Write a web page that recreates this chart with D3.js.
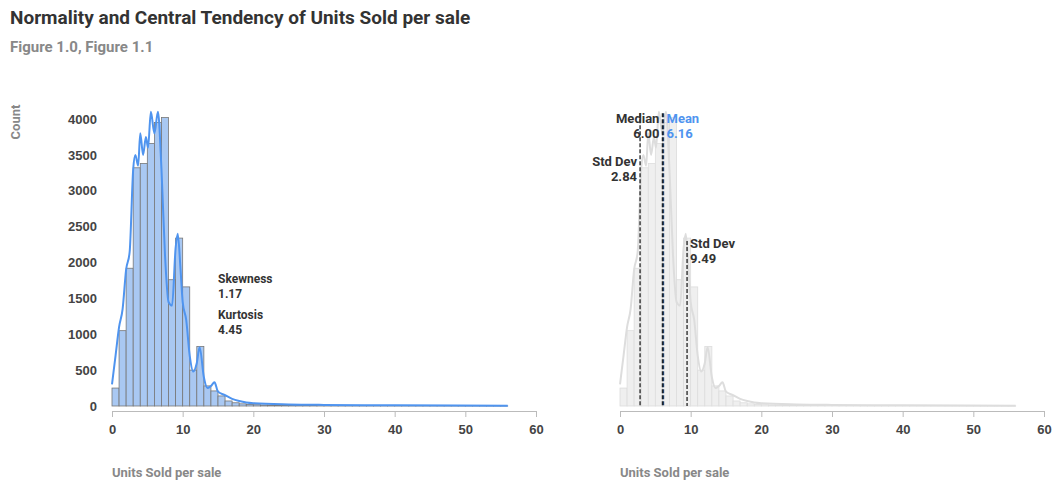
<!DOCTYPE html>
<html>
<head>
<style>
body { margin: 0; background: #fff; font-family: Roboto, "Noto Sans", sans-serif; }
.tick text { font-size: 13px; font-weight: bold; fill: #444; }
.domain, .tick line { stroke: #bbb; }
</style>
<script src="https://cdnjs.cloudflare.com/ajax/libs/d3/7.8.5/d3.min.js"></script>
</head>
<body>
<svg width="1060" height="490"></svg>
<script>
// histogram bins (width 1, start at 0)
var binCounts = [250, 1050, 1920, 3320, 3380, 3660, 3950, 4020, 1760, 2340, 1660, 500, 830, 280, 210, 140, 70, 45, 30, 22,
  18, 14, 12, 10, 9, 8, 7, 6, 6, 5, 5, 4, 4, 4, 3, 3, 3, 3, 2, 2, 2, 2, 2, 2, 2, 2, 1, 1, 1, 1, 1, 1, 1, 1, 1, 1];
// density curve
var kdeX = [0, 0.5, 1, 1.5, 2, 2.5, 3, 3.3, 3.7, 4, 4.4, 4.8, 5.1, 5.5, 6, 6.5, 7, 7.5, 8, 8.5, 9, 9.3, 9.7, 10, 10.5, 11, 11.5, 12, 12.4, 13, 13.5, 14, 14.5, 15, 16, 17, 18, 19, 20, 25, 30, 40, 56];
var kdeY = [300, 700, 1100, 1350, 1900, 2150, 3300, 3500, 3350, 3800, 3500, 3750, 3600, 4100, 3800, 4100, 3300, 2100, 1450, 1400, 2200, 2400, 1900, 1450, 1200, 700, 480, 600, 820, 400, 250, 280, 330, 200, 150, 100, 70, 50, 40, 22, 15, 10, 5];
var xTicks = [0, 10, 20, 30, 40, 50, 60];
var yTicks = [0, 500, 1000, 1500, 2000, 2500, 3000, 3500, 4000];
var stats = { skew: "1.17", kurt: "4.45" };
var markers = [
  { v: 2.84, label: "Std Dev", val: "2.84", top: 4080, lab: 3350, side: "left", color: "#333" },
  { v: 6.00, label: "Median", val: "6.00", top: 4080, lab: 3950, side: "left", color: "#333" },
  { v: 6.16, label: "Mean", val: "6.16", top: 4080, lab: 3950, side: "right", color: "#4f94ef" },
  { v: 9.49, label: "Std Dev", val: "9.49", top: 2300, lab: 2200, side: "right", color: "#333" }
];

var svg = d3.select("svg");
svg.append("text").attr("x", 10).attr("y", 24).text("Normality and Central Tendency of Units Sold per sale")
  .style("font-size", "19px").style("font-weight", "bold").style("fill", "#333");
svg.append("text").attr("x", 10).attr("y", 52).text("Figure 1.0, Figure 1.1")
  .style("font-size", "15px").style("font-weight", "bold").style("fill", "#888");

var y = d3.scaleLinear().domain([0, 4000]).range([406, 119]);
var bins = binCounts.map(function(c, i) { return { x0: i, x1: i + 1, c: c }; });
var kde = kdeX.map(function(x, i) { return [x, kdeY[i]]; });

function panel(left, colored) {
  var x = d3.scaleLinear().domain([0, 60]).range([left, left + 424]);
  var g = svg.append("g");
  g.selectAll("rect").data(bins).enter().append("rect")
    .attr("x", function(d) { return x(d.x0); })
    .attr("width", function(d) { return x(d.x1) - x(d.x0); })
    .attr("y", function(d) { return y(d.c); })
    .attr("height", function(d) { return y(0) - y(d.c); })
    .attr("fill", colored ? "#a9c8f2" : "#efefef")
    .attr("stroke", colored ? "#777" : "#ddd").attr("stroke-width", 0.8);
  g.append("path").datum(kde)
    .attr("d", d3.line().curve(d3.curveMonotoneX).x(function(d) { return x(d[0]); }).y(function(d) { return y(d[1]); }))
    .attr("fill", "none").attr("stroke", colored ? "#4f94ef" : "#ddd").attr("stroke-width", 2);
  svg.append("g").attr("transform", "translate(0,411)")
    .call(d3.axisBottom(x).tickValues(xTicks).tickSize(6).tickPadding(8));
  svg.append("text").attr("x", left).attr("y", 477).text("Units Sold per sale")
    .style("font-size", "13px").style("font-weight", "bold").style("fill", "#888");
  return x;
}

var x1 = panel(112, true);
var yAx = svg.append("g").attr("transform", "translate(97,0)")
  .call(d3.axisLeft(y).tickValues(yTicks).tickFormat(d3.format("d")).tickSize(0).tickPadding(0));
yAx.select(".domain").remove();
svg.append("text").attr("transform", "translate(20,122) rotate(-90)").attr("text-anchor", "middle").text("Count")
  .style("font-size", "13px").style("font-weight", "bold").style("fill", "#888");

var st = svg.append("g").style("font-size", "12px").style("font-weight", "bold").style("fill", "#333");
st.append("text").attr("x", 218).attr("y", 283).text("Skewness");
st.append("text").attr("x", 218).attr("y", 298).text(stats.skew);
st.append("text").attr("x", 218).attr("y", 319).text("Kurtosis");
st.append("text").attr("x", 218).attr("y", 334).text(stats.kurt);

var x2 = panel(620, false);
var mk = svg.append("g");
markers.forEach(function(m) {
  mk.append("line").attr("x1", x2(m.v)).attr("x2", x2(m.v)).attr("y1", y(m.top)).attr("y2", y(0))
    .attr("stroke", m.color === "#333" ? "#222" : "#1c3b63").attr("stroke-width", 1.3).attr("stroke-dasharray", "4,2");
  var tx = m.side === "left" ? x2(m.v) - 3 : x2(m.v) + 3;
  var anchor = m.side === "left" ? "end" : "start";
  [m.label, m.val].forEach(function(t, i) {
    mk.append("text").attr("x", tx).attr("y", y(m.lab) + i * 15).attr("text-anchor", anchor).text(t)
      .style("font-size", "13px").style("font-weight", "bold").style("fill", m.color);
  });
});
</script>
</body>
</html>
